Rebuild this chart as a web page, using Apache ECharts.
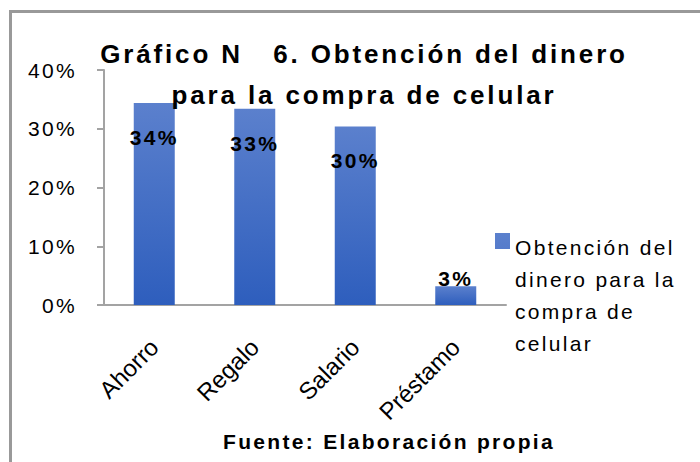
<!DOCTYPE html>
<html>
<head>
<meta charset="utf-8">
<script src="https://cdn.jsdelivr.net/npm/echarts@6/dist/echarts.min.js"></script>
<style>
  html, body { margin: 0; padding: 0; background: #fff; }
  #chart { width: 700px; height: 462px; }
  /* the original export has wide tracking on the horizontal texts */
  #chart text { letter-spacing: 0.11em; }
  /* rotated category labels are set tight */
  #chart text[transform^="matrix"] { letter-spacing: 0; }
</style>
</head>
<body>
<div id="chart"></div>
<script>
const categories = ['Ahorro', 'Regalo', 'Salario', 'Préstamo']
const values = [34.4, 33.4, 30.4, 3.2]
const yTicks = { min: 0, max: 40, interval: 10 }
const seriesName = 'Obtención del dinero para la compra de celular'

const chart = echarts.init(document.getElementById('chart'), null, { renderer: 'svg' })

const barColor = new echarts.graphic.LinearGradient(0, 0, 0, 1, [
  { offset: 0, color: '#5b80cd' },
  { offset: 1, color: '#2e5ebd' }
])

// last bar is too short for an inside label, Excel puts it on top
const barData = values.map((v, i) => {
  if (v < 10) {
    return { value: v, label: { position: 'top', distance: -3 } }
  }
  return v
})

const option = {
  animation: false,
  textStyle: { fontFamily: 'Liberation Sans, Arial, sans-serif', color: '#000' },
  title: [
    {
      text: 'Gráfico N   6. Obtención del dinero\npara la compra de celular',
      left: 359,
      top: 28,
      textAlign: 'center',
      textStyle: { fontSize: 26, fontWeight: 'bold', lineHeight: 41, color: '#000' }
    },
    {
      text: 'Fuente: Elaboración propia',
      left: 384,
      top: 426,
      textAlign: 'center',
      textStyle: { fontSize: 21, fontWeight: 'bold', color: '#000' }
    }
  ],
  legend: {
    left: 495,
    top: 231,
    padding: 0,
    itemWidth: 15,
    itemHeight: 128,
    // square sits at the top of a tall item so it lines up with the first text line
    icon: 'path://M0,2h15v16h-15z M0,0h0 M0,128h0',
    formatter: () => 'Obtención del\ndinero para la\ncompra de\ncelular',
    textStyle: { fontSize: 21, lineHeight: 32, color: '#000' },
    data: [seriesName]
  },
  graphic: [
    {
      type: 'rect',
      shape: { x: 10.5, y: 11.5, width: 720, height: 480 },
      style: { fill: 'none', stroke: '#999', lineWidth: 3 },
      silent: true
    }
  ],
  grid: { left: 104, right: 194, top: 70, bottom: 157 },
  xAxis: {
    type: 'category',
    data: categories,
    axisLine: { lineStyle: { color: '#a3a3a3', width: 2 } },
    axisTick: { length: 7, lineStyle: { color: '#a3a3a3', width: 2 } },
    axisLabel: { rotate: 45, margin: 38, fontSize: 24, color: '#000' }
  },
  yAxis: {
    type: 'value',
    min: yTicks.min,
    max: yTicks.max,
    interval: yTicks.interval,
    splitLine: { show: false },
    axisLine: { show: true, lineStyle: { color: '#a3a3a3', width: 2 } },
    axisTick: { show: true, length: 7, lineStyle: { color: '#a3a3a3', width: 2 } },
    axisLabel: { formatter: '{value}%', margin: 27, fontSize: 21, color: '#000' }
  },
  series: [
    {
      name: seriesName,
      type: 'bar',
      barWidth: 41,
      data: barData,
      itemStyle: { color: barColor },
      label: {
        show: true,
        position: 'insideTop',
        distance: 24,
        fontSize: 21,
        fontWeight: 'bold',
        color: '#000',
        formatter: p => Math.round(p.value) + '%'
      }
    }
  ]
}

chart.setOption(option)
</script>
</body>
</html>
